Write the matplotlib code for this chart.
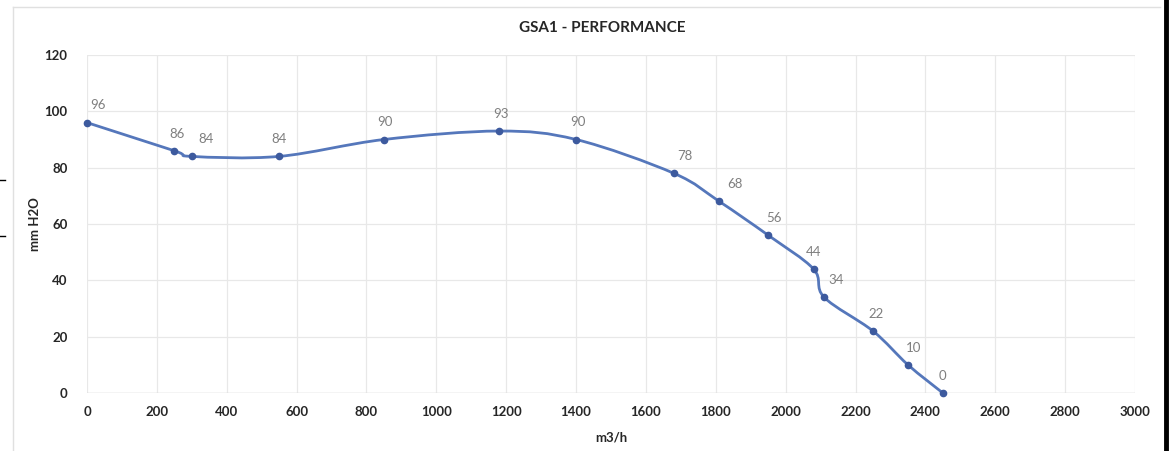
import numpy as np
import matplotlib
matplotlib.use("Agg")
import matplotlib.pyplot as plt
from matplotlib.path import Path
from matplotlib.patches import PathPatch
from matplotlib.lines import Line2D

# ---- data ----
flow = [0, 250, 300, 550, 850, 1180, 1400, 1680, 1810, 1950, 2080, 2110, 2250, 2350, 2450]
pressure = [96, 86, 84, 84, 90, 93, 90, 78, 68, 56, 44, 34, 22, 10, 0]
label_dx = [8, 2, 10, 0, 1, 1, 1, 8, 11, 4, 0, 9, 2, 4, 0]  # label offsets in points
x_ticks = list(range(0, 3001, 200))
y_ticks = list(range(0, 121, 20))
title = "GSA1 - PERFORMANCE"
x_label = "m3/h"
y_label = "mm H2O"

W, H = 1171, 451
fig = plt.figure(figsize=(W / 100, H / 100), dpi=100)
fig.patch.set_facecolor("white")
plt.rcParams["font.family"] = ["Lato", "DejaVu Sans"]

# plot area in pixels
left_px, right_px, top_px, bot_px = 87, 1135, 55, 393
ax = fig.add_axes([left_px / W, 1 - bot_px / H, (right_px - left_px) / W, (bot_px - top_px) / H])
ax.set_xlim(0, 3000)
ax.set_ylim(0, 120)
ax.set_xticks(x_ticks)
ax.set_yticks(y_ticks)
ax.tick_params(length=0, labelsize=9.5, colors="#262626", pad=9)
for lab in ax.get_xticklabels() + ax.get_yticklabels():
    lab.set_fontweight("bold")
ax.tick_params(axis="y", pad=14)
for s in ax.spines.values():
    s.set_visible(False)
ax.grid(True, color="#e8e8e8", linewidth=0.9)
ax.axhline(0, color="#d4d4d4", linewidth=1.0, zorder=1)
ax.set_axisbelow(True)

# Excel-like smoothed line (Catmull-Rom bezier in display-normalized coords)
xs = np.array(flow, float) / 3000.0 * (right_px - left_px)
ys = np.array(pressure, float) / 120.0 * (bot_px - top_px)
pts = np.column_stack([xs, ys])
n = len(pts)
verts = [pts[0]]
codes = [Path.MOVETO]
for i in range(n - 1):
    p0 = pts[i - 1] if i > 0 else pts[i]
    p1 = pts[i]
    p2 = pts[i + 1]
    p3 = pts[i + 2] if i + 2 < n else pts[i + 1]
    c1 = p1 + (p2 - p0) / 6.0
    c2 = p2 - (p3 - p1) / 6.0
    verts += [c1, c2, p2]
    codes += [Path.CURVE4] * 3
verts = np.array(verts)
verts[:, 0] = verts[:, 0] / (right_px - left_px) * 3000.0
verts[:, 1] = verts[:, 1] / (bot_px - top_px) * 120.0
patch = PathPatch(Path(verts, codes), facecolor="none", edgecolor="#5577bb", linewidth=2.0, zorder=3)
patch.set_clip_on(False)
ax.add_patch(patch)
ax.plot(flow, pressure, linestyle="none", marker="o", markersize=4.5, color="#3d5a9e", zorder=4, clip_on=False)

for x, y, dx in zip(flow, pressure, label_dx):
    ax.annotate(str(y), (x, y), xytext=(dx, 8), textcoords="offset points",
                ha="center", va="bottom", fontsize=9.5, color="#7f7f7f")

fig.text(602 / W, 1 - 28 / H, title, ha="center", va="center", fontsize=11, fontweight="bold", color="#262626")
fig.text(611 / W, 1 - 438 / H, x_label, ha="center", va="center", fontsize=9.5, fontweight="bold", color="#262626")
fig.text(35 / W, 1 - 224 / H, y_label, ha="center", va="center", rotation=90, fontsize=9.5, fontweight="bold", color="#262626")

# frame decorations
fig.add_artist(Line2D([13 / W, 1160 / W], [1 - 7 / H, 1 - 7 / H], color="#e0e0e0", linewidth=1.0))
fig.add_artist(Line2D([13 / W, 13 / W], [0, 1 - 7 / H], color="#e0e0e0", linewidth=1.0))
fig.add_artist(Line2D([1165.5 / W, 1165.5 / W], [0, 1], color="black", linewidth=3.5))
fig.add_artist(Line2D([0, 5 / W], [1 - 180 / H, 1 - 180 / H], color="black", linewidth=1.0))
fig.add_artist(Line2D([0, 5 / W], [1 - 236 / H, 1 - 236 / H], color="black", linewidth=1.0))

fig.savefig("out.png", dpi=100)
